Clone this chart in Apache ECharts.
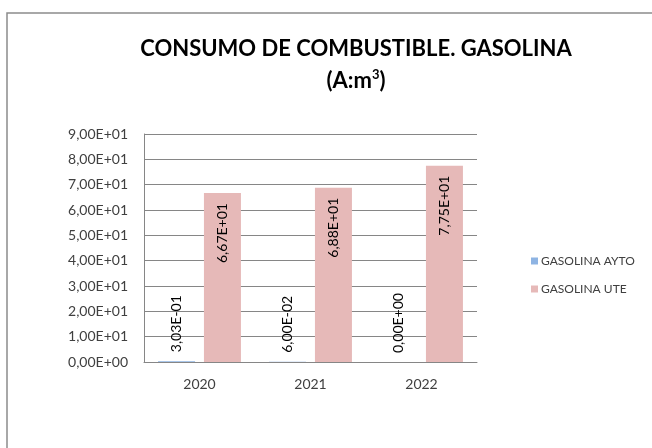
<!DOCTYPE html>
<html>
<head>
<meta charset="utf-8">
<script src="https://cdn.jsdelivr.net/npm/echarts@6/dist/echarts.min.js"></script>
<style>
  html, body { margin: 0; padding: 0; background: #fff; }
  #chart { width: 652px; height: 448px; }
</style>
</head>
<body>
<div id="chart"></div>
<script>
// datos
const years = ['2020', '2021', '2022']
const gasolinaAyto = [0.303, 0.06, 0]
const gasolinaUte = [66.7, 68.8, 77.5]
const seriesNames = ['GASOLINA AYTO', 'GASOLINA UTE']

const font = 'Lato, "Open Sans", sans-serif'

// formato cientifico estilo Excel: 6,67E+01
function sci(v) {
  let parts = Number(v).toExponential(2).split('e')
  let mant = parts[0].replace('.', ',')
  let exp = parseInt(parts[1], 10)
  let sign = exp < 0 ? '-' : '+'
  let e = String(Math.abs(exp)).padStart(2, '0')
  return mant + 'E' + sign + e
}

let chart = echarts.init(document.getElementById('chart'))

let option = {
  backgroundColor: '#fff',
  animation: false,
  textStyle: { fontFamily: font },
  graphic: [
    {
      type: 'rect',
      shape: { x: 7, y: 13, width: 700, height: 500 },
      style: { fill: 'none', stroke: '#8c8c8c', lineWidth: 1.5 },
      silent: true,
    },
  ],
  title: {
    text: 'CONSUMO DE COMBUSTIBLE. GASOLINA\n(A:m{sup|3})',
    left: 351,
    textAlign: 'center',
    top: 28,
    textStyle: {
      fontFamily: font,
      fontSize: 22,
      fontWeight: 'bold',
      color: '#000',
      lineHeight: 32,
      rich: {
        sup: {
          fontSize: 13,
          fontWeight: 'bold',
          fontFamily: font,
          color: '#000',
          verticalAlign: 'top',
          lineHeight: 14,
          padding: [3, 0, 0, 0],
        },
      },
    },
  },
  legend: {
    orient: 'vertical',
    left: 526,
    top: 250,
    itemWidth: 7,
    itemHeight: 7,
    itemGap: 16,
    icon: 'rect',
    textStyle: { fontFamily: font, fontSize: 12, color: '#404040', padding: [0, 0, 0, -2] },
    data: seriesNames,
  },
  grid: {
    left: 144,
    right: 175,
    top: 134,
    bottom: 86,
  },
  xAxis: {
    type: 'category',
    data: years,
    axisLine: { show: true, lineStyle: { color: '#868686', width: 1 } },
    axisTick: { show: false },
    axisLabel: { color: '#404040', fontSize: 14, margin: 15, fontFamily: font },
  },
  yAxis: {
    type: 'value',
    min: 0,
    max: 90,
    interval: 10,
    axisLine: { show: true, lineStyle: { color: '#868686', width: 1 } },
    axisTick: { show: false },
    splitLine: { lineStyle: { color: '#868686', width: 1 } },
    axisLabel: {
      color: '#404040',
      fontSize: 14,
      margin: 16,
      fontFamily: font,
      formatter: (v) => sci(v),
    },
  },
  series: [
    {
      name: seriesNames[0],
      type: 'bar',
      data: gasolinaAyto,
      barWidth: 37,
      barGap: '24%',
      itemStyle: { color: '#8eb4e3' },
      label: {
        show: true,
        position: 'top',
        distance: 9,
        rotate: 90,
        align: 'left',
        verticalAlign: 'middle',
        fontSize: 14,
        fontFamily: font,
        color: '#000',
        formatter: (p) => sci(p.value),
      },
    },
    {
      name: seriesNames[1],
      type: 'bar',
      data: gasolinaUte,
      barWidth: 37,
      itemStyle: { color: '#e6b9b8' },
      label: {
        show: true,
        position: 'insideTop',
        distance: 10,
        rotate: 90,
        align: 'right',
        verticalAlign: 'middle',
        fontSize: 14,
        fontFamily: font,
        color: '#000',
        formatter: (p) => sci(p.value),
      },
    },
  ],
}
chart.setOption(option)
</script>
</body>
</html>
